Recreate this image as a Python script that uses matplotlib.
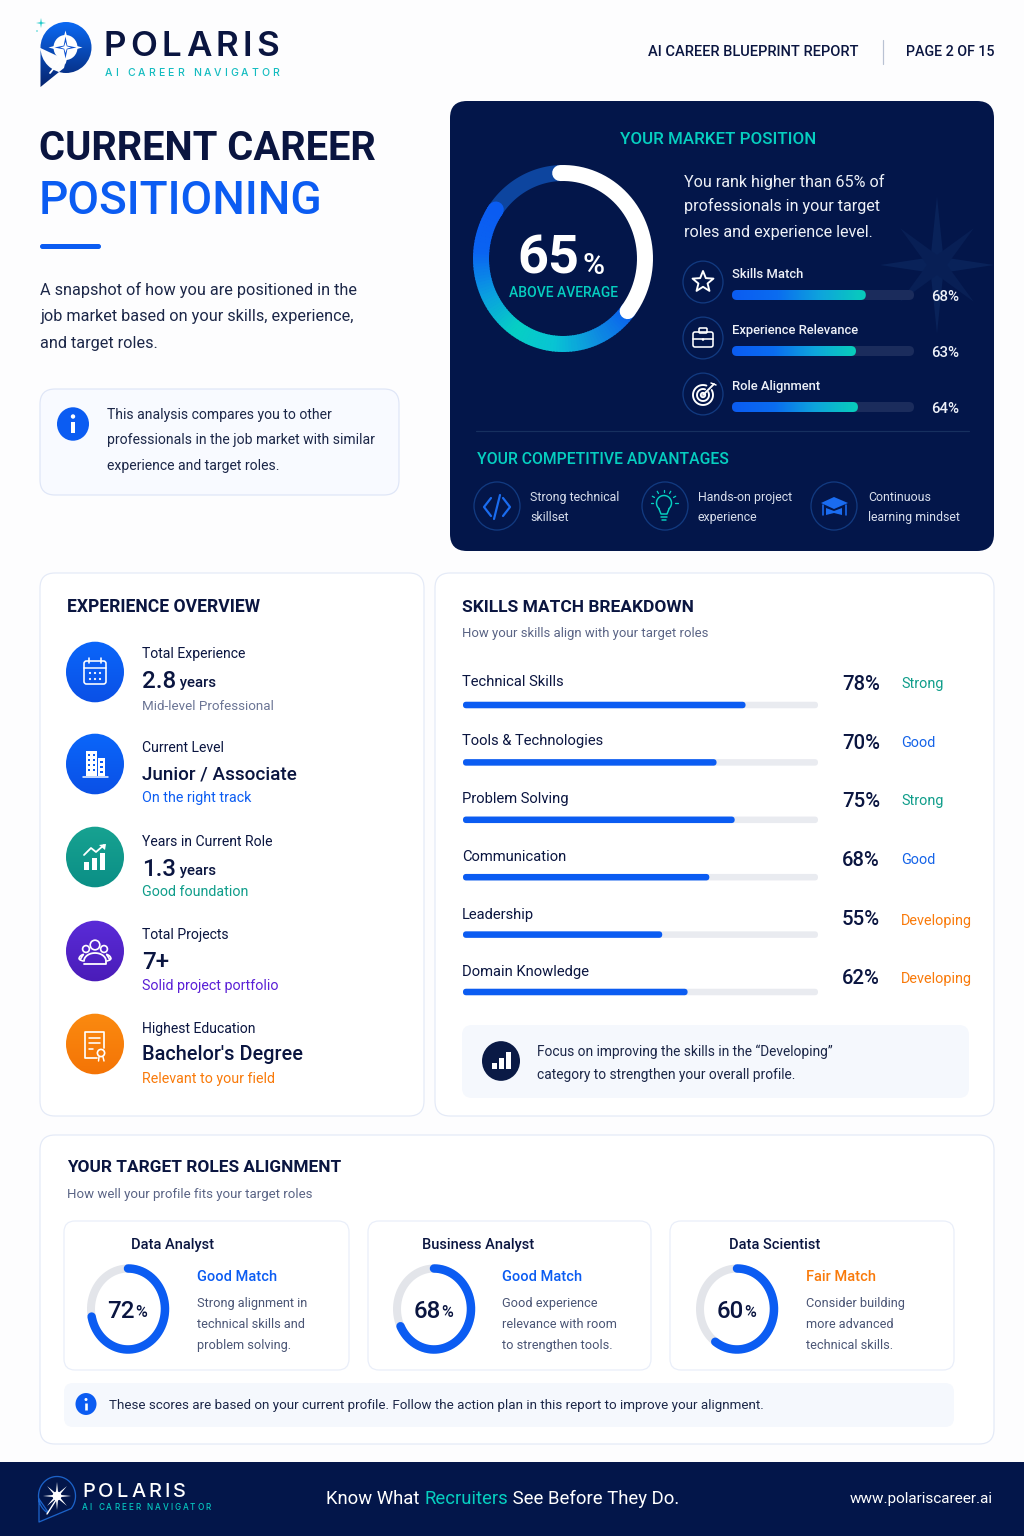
import numpy as np
import matplotlib
matplotlib.use('Agg')
import matplotlib.pyplot as plt
from matplotlib.patches import FancyBboxPatch, Ellipse, Polygon, Rectangle, PathPatch
from matplotlib.path import Path
from matplotlib.colors import LinearSegmentedColormap

# ---------- data ----------
market_score = 65
market_labels = ['Skills Match', 'Experience Relevance', 'Role Alignment']
market_values = [68, 63, 64]
advantages = [['Strong technical', 'skillset'], ['Hands-on project', 'experience'], ['Continuous', 'learning mindset']]
exp_labels = ['Total Experience', 'Current Level', 'Years in Current Role', 'Total Projects', 'Highest Education']
exp_values = ['2.8', 'Junior / Associate', '1.3', '7+', "Bachelor's Degree"]
exp_units = [' years', '', ' years', '', '']
exp_notes = ['Mid-level Professional', 'On the right track', 'Good foundation', 'Solid project portfolio', 'Relevant to your field']
skill_names = ['Technical Skills', 'Tools & Technologies', 'Problem Solving', 'Communication', 'Leadership', 'Domain Knowledge']
skill_values = [78, 70, 75, 68, 55, 62]
skill_status = ['Strong', 'Good', 'Strong', 'Good', 'Developing', 'Developing']
role_names = ['Data Analyst', 'Business Analyst', 'Data Scientist']
role_values = [72, 68, 60]
role_match = ['Good Match', 'Good Match', 'Fair Match']
role_notes = [['Strong alignment in', 'technical skills and', 'problem solving.'],
              ['Good experience', 'relevance with room', 'to strengthen tools.'],
              ['Consider building', 'more advanced', 'technical skills.']]

# ---------- style ----------
plt.rcParams['font.family'] = ['Roboto', 'DejaVu Sans']
NAVY = '#0a1540'; DARK = '#03164a'; BLUE = '#0b5cf2'; CYAN = '#06cfc0'
TEAL = '#0f9d8a'; ORANGE = '#f97a0a'; PURPLE = '#5a1fd6'; GREY = '#5a6485'
STATUS = {'Strong': TEAL, 'Good': '#1463e8', 'Developing': ORANGE}
MATCH = {'Good Match': BLUE, 'Fair Match': ORANGE}
W, H = 1024, 1536
YS = 1.045  # circles of the page are a little taller than wide

fig = plt.figure(figsize=(W/100, H/100), dpi=100, facecolor='#fdfdfe')
ax = fig.add_axes([0, 0, 1, 1]); ax.axis('off')
ax.set_xlim(0, W); ax.set_ylim(H, 0)

def px(v): return v*0.72

def width(t):
    r = fig.canvas.get_renderer()
    return t.get_window_extent(r).width

def T(x, y, s, size, color=NAVY, weight='normal', ha='left', fit=None, **k):
    """y = visual centre of capitals, size in pixels; fit = wanted width in pixels."""
    t = ax.text(x, y+0.36*size, s, fontsize=px(size), color=color, fontweight=weight,
                ha=ha, va='baseline', zorder=k.pop('zorder', 6), **k)
    if fit:
        size = size*fit/width(t)
        t.set_fontsize(px(size)); t.set_y(y+0.36*size)
    return t

def spaced(x0, x1, y, s, size, color, weight='normal', family='Inter'):
    ts = [T(0, y, c, size, color, weight, family=family) for c in s]
    ws = [width(t) if c != ' ' else size*0.3 for t, c in zip(ts, s)]
    gap = (x1-x0-sum(ws))/(len(s)-1)
    x = x0
    for t, w in zip(ts, ws):
        t.set_x(x); x += w+gap

def box(x0, y0, x1, y1, r, fc, ec='none', lw=1, z=1):
    p = FancyBboxPatch((x0+r, y0+r), x1-x0-2*r, y1-y0-2*r, boxstyle=f'round,pad={r},rounding_size={r}',
                       fc=fc, ec=ec, lw=px(lw), zorder=z)
    ax.add_patch(p); return p

def circ(x, y, r, fc='none', ec='none', lw=1, z=5):
    p = Ellipse((x, y), 2*r, 2*r*(YS if r >= 5 else 1), fc=fc, ec=ec, lw=px(lw), zorder=z)
    ax.add_patch(p); return p

def line(xs, ys, c='white', lw=1.6, z=7, cap='round'):
    ax.plot(xs, ys, color=c, lw=px(lw), solid_capstyle=cap, solid_joinstyle='round', zorder=z)

def poly(pts, fc='none', ec='none', lw=1, z=7):
    p = Polygon(pts, closed=True, fc=fc, ec=ec, lw=px(lw), joinstyle='round', zorder=z)
    ax.add_patch(p); return p

def rrect(x0, y0, x1, y1, r, fc='none', ec='white', lw=1.6, z=7):
    return box(x0, y0, x1, y1, r, fc, ec, lw, z)

def star_pts(cx, cy, n, R, r, rot=-90, ys=1.0):
    a = np.deg2rad(rot+np.arange(2*n)*180/n)
    rad = np.where(np.arange(2*n) % 2 == 0, R, r)
    return np.c_[cx+rad*np.cos(a), cy+ys*rad*np.sin(a)]

def grad_clip(extent, c0, c1, clip):
    g = np.linspace(0, 1, 64)
    cm = LinearSegmentedColormap.from_list('g', [c0, c1])
    im = ax.imshow(g[:, None], extent=extent, cmap=cm, aspect='auto', zorder=clip.get_zorder(), interpolation='bilinear')
    im.set_clip_path(clip)
    return im

def inset(x0, y0, x1, y1, **k):
    a = fig.add_axes([x0/W, 1-y1/H, (x1-x0)/W, (y1-y0)/H], **k)
    a.patch.set_alpha(0); a.axis('off')
    return a

# ---------- rings ----------
def ring_axes(cx, cy, rx, ry):
    a = inset(cx-rx, cy-ry, cx+rx, cy+ry, projection='polar')
    a.set_aspect('auto')
    a.set_theta_zero_location('N'); a.set_theta_direction(-1); a.set_ylim(0, 1)
    return a

def arc(a, d0, d1, color, lw, cap='round', zo=2):
    th = np.deg2rad(np.linspace(d0, d1, max(int(abs(d1-d0)), 2)*2))
    a.plot(th, np.ones_like(th), color=color, lw=px(lw), solid_capstyle=cap, clip_on=False, zorder=zo)

# ---------- rounded bars ----------
def rbar(a, v, yc, h, color=None, grad=None, z=2):
    x0, y0, w_, h_ = a.get_position().bounds
    xl, yl = a.get_xlim(), a.get_ylim()
    ppx = w_*W/abs(xl[1]-xl[0]); ppy = h_*H/abs(yl[1]-yl[0])
    rpx = h*ppy/2
    rx = rpx/ppx
    asp = ppx/ppy
    p = FancyBboxPatch((rx, yc-h/2+rpx/ppy), v-2*rx, h-2*rpx/ppy, boxstyle=f'round,pad={rx},rounding_size={rx}',
                       mutation_aspect=asp, fc=color if not grad else 'none', ec='none', zorder=z)
    a.add_patch(p)
    if grad:
        cm = LinearSegmentedColormap.from_list('b', grad)
        im = a.imshow(np.linspace(0, 1, 64)[None, :], extent=(0, v, yc+h/2, yc-h/2), cmap=cm, aspect='auto', zorder=z)
        im.set_clip_path(p)
        a.set_xlim(xl); a.set_ylim(yl)

# ---------- logos ----------
def logo_main():
    circle = Path.circle((66, 47.5), 25.5)
    tail = Path([(40.5, 48), (40.5, 87), (64, 68), (66, 60), (40.5, 48)], closed=False)
    comp = Path.make_compound_path(circle, tail)
    p = PathPatch(comp, fc='none', ec='none', zorder=4); ax.add_patch(p)
    grad_clip((40, 92, 87, 21), '#0b6af5', '#06246e', p)
    circ(65.5, 47.5, 12, fc='white', z=5)
    poly(star_pts(65.5, 47.5, 4, 17, 5), fc='white', z=6)
    poly(star_pts(65.5, 47.5, 4, 11, 2.6), fc='#0b4fd0', z=7)
    poly(star_pts(65.5, 47.5, 4, 5.5, 1.8), fc='white', z=8)
    line([62, 50], [58, 73], 'white', 1.8, z=6)
    poly(star_pts(41, 23, 4, 5, 1), fc='#12c6c6', z=6)
    circ(37, 31, 0.7, fc='#12c6c6')

def logo_foot():
    th = np.deg2rad(np.linspace(120, 400, 80))
    xs = 57+18.5*np.cos(th); ys = 1496+19.5*np.sin(th)
    line(list(xs)+[39, 39, 48], list(ys)+[1522, 1499, 1512], '#1c62c8', 1.3, z=5)
    poly(star_pts(57, 1496, 8, 14, 3), fc='white', z=6)
    circ(57, 1496, 4.5, fc='white', z=6)
    line([56, 47], [1500, 1514], 'white', 1.4, z=6)

# ---------- header ----------
logo_main()
spaced(104, 279, 43, 'POLARIS', 35, NAVY, 'semibold')
spaced(105, 279, 72, 'AI CAREER NAVIGATOR', 10.5, '#14bcc0', 'medium')
T(648, 51, 'AI CAREER BLUEPRINT REPORT', 15.2, NAVY, 'medium', fit=211)
line([883, 883], [40, 64], '#b9c2d3', 1.2)
T(994, 51, 'PAGE 2 OF 15', 15.2, NAVY, 'medium', ha='right', fit=89)

# ---------- left intro ----------
T(39, 146, 'CURRENT CAREER', 44, NAVY, 'bold', fit=338)
T(39, 197, 'POSITIONING', 47, BLUE, 'medium', fit=284)
box(40, 244, 101, 249, 2.5, BLUE, z=3)
for yy, s in zip([289, 315, 342], ['A snapshot of how you are positioned in the',
                                   'job market based on your skills, experience,',
                                   'and target roles.']):
    T(40, yy, s, 16.3, '#1c2748')
box(40, 389, 399, 495, 15, '#f8faff', '#dfe6f7', 1.2)
circ(73, 424, 16, fc=BLUE)
circ(73, 416.5, 2.2, fc='white', z=7); line([73, 73], [421.5, 432.5], 'white', 4, z=7, cap='butt')
for yy, s in zip([414, 439, 465], ['This analysis compares you to other',
                                   'professionals in the job market with similar',
                                   'experience and target roles.']):
    T(107, yy, s, 14, '#1c2748')

# ---------- dark panel ----------
box(450, 101, 994, 551, 17, DARK, z=2)
poly(star_pts(937, 265, 4, 57, 9, ys=1.2), fc='#092259', z=3)
poly(star_pts(937, 265, 4, 52, 10, rot=-45), fc='#081f55', z=3)
T(718, 138, 'YOUR MARKET POSITION', 18.4, CYAN, 'medium', ha='center', fit=195)
rm = ring_axes(563, 258.5, 82, 85.5); rm.set_zorder(3)
score_start = (100-market_score)*3.6
arc(rm, 300, 360, '#0d459f', 16, cap='butt', zo=1)
ring_cm = LinearSegmentedColormap.from_list('r', ['#0a5ff0', '#0e8fe0', '#08c4d4', '#06cfc4', '#0a9fe0', '#0a63f2', '#0a5cf2'])
arc(rm, 303, 305, '#0a5cf2', 16, cap='round', zo=2)
degs = np.linspace(score_start, 305, 90)
for i in range(len(degs)-1):
    arc(rm, degs[i], degs[i+1]+0.6, ring_cm(i/88), 16, cap='butt', zo=2)
arc(rm, -2, score_start+2, 'white', 16, cap='round', zo=3)
T(579, 254, f'{market_score}', 54, 'white', 'bold', ha='right')
T(583, 263, '%', 30, 'white', 'medium')
T(563.5, 292, 'ABOVE AVERAGE', 15.4, CYAN, 'medium', ha='center', fit=109)
for yy, s in zip([181, 205, 231], ['You rank higher than 65% of', 'professionals in your target',
                                   'roles and experience level.']):
    T(684, yy, s, 16.1, '#eef1f8')

mk_ys = [295, 351, 407]
bax = inset(732, 267, 914, 435)
bax.set_xlim(0, 92.5); bax.set_ylim(2.5, -0.5)
for i, (lab, v) in enumerate(zip(market_labels, market_values)):
    rbar(bax, 92.5, i, 10/56, '#1b2c5c', z=1)
    rbar(bax, v, i, 10/56, grad=['#0a5cf2', '#0a6cf0', '#0ea5dc', '#08cdbb'], z=2)
    T(732, mk_ys[i]-22, lab, 13, '#eef1f8', 'medium')
    T(931, mk_ys[i]+1, f'{v}%', 15, '#eef1f8', 'medium')
    circ(703, mk_ys[i]-13, 20, ec='#123a80', lw=1.3)

# star icon
poly(star_pts(703, 282, 5, 11, 4.8), ec='white', lw=1.9)
# briefcase
rrect(693, 332, 713, 347, 2)
line([693, 713], [339, 339], 'white', 1.6)
rrect(699, 328, 707, 333, 1)
circ(703, 339.5, 1.3, fc='white', z=8)
# target
for r in (10, 6, 2.2):
    th = np.deg2rad(np.linspace(-30, 290, 60))
    line(703+r*np.cos(th), 395+r*np.sin(th), 'white', 1.9)
line([703, 714], [395, 384], 'white', 1.9)
line([711, 716], [383, 385], 'white', 1.5)

line([476, 969], [431, 431], '#17305f', 1.2, z=3)
T(477, 458, 'YOUR COMPETITIVE ADVANTAGES', 18.4, CYAN, 'medium', fit=251)
adv_cx = [497, 665, 834]; adv_tx = [530, 698, 868]
for cx, tx, ls in zip(adv_cx, adv_tx, advantages):
    circ(cx, 506, 23, ec='#123a80', lw=1.3)
    T(tx, 497, ls[0], 12.4, '#d8deec'); T(tx, 517, ls[1], 12.4, '#d8deec')
# code icon
line([491, 484, 491], [498, 507, 516], '#1a6cf0', 2.2)
line([503, 510, 503], [498, 507, 516], '#1a6cf0', 2.2)
line([500, 494], [495, 519], '#1a6cf0', 2.2)
# bulb icon
th = np.deg2rad(np.linspace(130, 410, 40))
line(664+7.5*np.cos(th), 503+7.5*np.sin(th), CYAN, 1.5)
line([659, 661, 667, 669], [509, 514, 514, 509], CYAN, 1.5)
line([661, 667], [517, 517], CYAN, 1.5)
line([662, 666], [520, 520], CYAN, 1.5)
for a_ in (-150, -120, -90, -60, -30, 180, 0):
    r_ = np.deg2rad(a_)
    line([664+11*np.cos(r_), 664+13.5*np.cos(r_)], [503+11*np.sin(r_), 503+13.5*np.sin(r_)], CYAN, 1.3)
# cap icon
poly([(821, 503), (834, 497), (848, 503), (834, 509)], fc='#1a6cf0')
poly([(826, 508), (834, 511), (842, 508), (842, 515), (834, 513), (826, 515)], fc='#1a6cf0')
line([823, 823], [505, 515], '#1a6cf0', 1.6); line([846, 846], [505, 515], '#1a6cf0', 1.6)

# ---------- experience card ----------
box(40, 573, 424, 1116, 15, 'white', '#e4eaf7', 1.2)
T(67, 606, 'EXPERIENCE OVERVIEW', 18.4, NAVY, 'bold', fit=192)
c_y = [672, 764, 857, 951, 1044]
lab_y = [653, 747, 841, 934, 1028]
val_y = [679, 773, 867, 960, 1053]
note_y = [705, 797, 891, 985, 1078]
val_sz = [24, 20.5, 24, 24, 20.5]
val_fit = [None, 155, None, None, 160]
ic_col = [['#0b66fa', '#0a50e6'], ['#0b66fa', '#0a50e6'], ['#17a291', '#0b8f86'], ['#5a2bd8', '#4a1cb8'], ['#fb8a10', '#f47406']]
note_col = ['#6b7595', BLUE, TEAL, PURPLE, ORANGE]
note_sz = [13.4, 14.2, 14.2, 14.2, 14.2]
for i in range(5):
    c = circ(95, c_y[i], 29, fc='none', z=4)
    grad_clip((65, 125, c_y[i]+31, c_y[i]-31), ic_col[i][0], ic_col[i][1], c)
    T(142, lab_y[i], exp_labels[i], 14, NAVY)
    t = T(142, val_y[i], exp_values[i], val_sz[i], NAVY, 'medium', fit=val_fit[i])
    if exp_units[i]:
        T(176, val_y[i]+3, exp_units[i], 15, NAVY, 'medium')
    T(142, note_y[i], exp_notes[i], note_sz[i], note_col[i])

# calendar
rrect(84, 661, 106, 684, 2.5)
line([84, 106], [668, 668], 'white', 1.5)
line([89, 89], [658, 663], 'white', 1.6); line([101, 101], [658, 663], 'white', 1.6)
for yy in (673, 679):
    for xx in (90, 95, 100):
        circ(xx, yy, 1.1, fc='white', z=8)
# building
ax.add_patch(Rectangle((86, 751), 11, 25, fc='white', zorder=7))
ax.add_patch(Rectangle((98, 758), 7, 18, fc='white', zorder=7))
line([83, 108], [777, 777], 'white', 1.5)
for yy in (755, 760, 765, 770):
    for xx in (89, 93.5):
        ax.add_patch(Rectangle((xx-1, yy-1), 2, 2.2, fc='#0b5cf2', zorder=8))
for yy in (762, 767, 772):
    ax.add_patch(Rectangle((100, yy-1), 3, 1.8, fc='#0b5cf2', zorder=8))
# growth chart
for xx, yy in zip((84, 92, 100), (862, 858, 853)):
    ax.add_patch(Rectangle((xx, yy), 5, 870-yy, fc='white', zorder=7))
line([84, 91, 96, 104], [855, 848, 852, 845], 'white', 1.8)
poly([(99, 845), (106, 844), (105, 850)], fc='white')
# people
for cx_, cy_, r_ in ((95, 945, 4.8), (86, 949, 3.4), (104, 949, 3.4)):
    circ(cx_, cy_, r_, ec='white', lw=1.7, z=7)
th = np.deg2rad(np.linspace(180, 360, 30))
line(list(95+11*np.cos(th))+[106, 84], list(961+8*np.sin(th))+[964, 964], 'white', 1.8)
line(list(86+7*np.cos(th[:12]))+[80, 83], list(959+5*np.sin(th[:12]))+[960, 961], 'white', 1.6)
line(list(104-7*np.cos(th[:12]))+[110, 107], list(959+5*np.sin(th[:12]))+[960, 961], 'white', 1.6)
# certificate
line([104, 104, 85, 85, 97], [1048, 1032, 1032, 1058, 1058], 'white', 1.7)
for yy, xe in ((1038, 100), (1043, 100), (1049, 93)):
    line([89, xe], [yy, yy], 'white', 1.6)
circ(101, 1053, 3.6, ec='white', lw=1.7, z=7)
line([99, 98.5], [1057, 1061], 'white', 1.5); line([103, 104], [1057, 1061], 'white', 1.5)

# ---------- skills card ----------
box(435, 573, 994, 1116, 15, 'white', '#e4eaf7', 1.2)
T(462, 606, 'SKILLS MATCH BREAKDOWN', 18.4, NAVY, 'bold', fit=231)
T(462, 632, 'How your skills align with your target roles', 13.1, GREY)
sk_lab = [681, 740, 798, 856, 914, 971]
sk_pct = [683, 742, 800, 859, 918, 977]
sk_st = [683, 742, 800, 859, 920, 978]
sax = inset(463, 705-28.7, 818, 992+28.7)
sax.set_xlim(0, 98); sax.set_ylim(5.5, -0.5)
for i, (n, v, st) in enumerate(zip(skill_names, skill_values, skill_status)):
    rbar(sax, 98, i, 6.5/57.4, '#e9ebf0', z=1)
    rbar(sax, v, i, 6.5/57.4, '#0b5cf2', z=2)
    T(462, sk_lab[i], n, 14.7, NAVY)
    T(842, sk_pct[i], f'{v}%', 20.3, NAVY, 'medium')
    T(901, sk_st[i], st, 14.4, STATUS[st])
box(462, 1025, 969, 1098, 10, '#f5f8fd', z=2)
circ(501, 1061, 19, fc='#0a1a45')
for xx, yy in zip((492, 499, 506), (1063, 1058, 1052)):
    ax.add_patch(Rectangle((xx, yy), 5, 1069-yy, fc='white', zorder=7))
T(537, 1051, 'Focus on improving the skills in the \u201cDeveloping\u201d', 13.8, '#1c2748')
T(537, 1074, 'category to strengthen your overall profile.', 13.8, '#1c2748')

# ---------- target roles ----------
box(40, 1135, 994, 1444, 15, 'white', '#e4eaf7', 1.2)
T(67, 1166, 'YOUR TARGET ROLES ALIGNMENT', 18.4, NAVY, 'bold', fit=273)
T(67, 1193, 'How well your profile fits your target roles', 13.2, GREY)
card_x = [(64, 349), (368, 651), (670, 954)]
title_x = [131, 422, 729]
ring_x = [128, 434, 737]
txt_x = [197, 502, 806]
for i in range(3):
    box(card_x[i][0], 1221, card_x[i][1], 1370, 11, 'white', '#e9eef9', 1.2, z=2)
    T(title_x[i], 1244, role_names[i], 14.6, NAVY, 'medium')
    r = ring_axes(ring_x[i], 1309, 37, 40.5)
    arc(r, 0, 360, '#e3e5ea', 8, cap='butt', zo=1)
    arc(r, 0, role_values[i]*3.6, '#0b5cf2', 8.5, cap='round', zo=2)
    T(ring_x[i]+7, 1309, f'{role_values[i]}', 24, NAVY, 'medium', ha='right')
    T(ring_x[i]+7.5, 1311, '%', 16, NAVY, 'medium')
    T(txt_x[i], 1276, role_match[i], 14.6, MATCH[role_match[i]], 'medium')
    for yy, s in zip([1302, 1323, 1344], role_notes[i]):
        T(txt_x[i], yy, s, 12.7, '#4a5575')
box(64, 1383, 954, 1427, 9, '#f5f8fd', z=2)
circ(86, 1404, 10.5, fc=BLUE)
circ(86, 1399.5, 1.5, fc='white', z=7); line([86, 86], [1402.5, 1410], 'white', 2.6, z=7, cap='butt')
T(109, 1404, 'These scores are based on your current profile. Follow the action plan in this report to improve your alignment.', 13.45, '#1c2748')

# ---------- footer ----------
ax.add_patch(Rectangle((0, 1462), W, 74, fc=DARK, zorder=2))
logo_foot()
spaced(82, 186, 1490, 'POLARIS', 20, 'white', 'medium')
spaced(82, 211, 1507, 'AI CAREER NAVIGATOR', 8.2, '#06c8c0', 'medium')
x = 326
for s, c in (('Know What ', 'white'), ('Recruiters', CYAN), (' See Before They Do.', 'white')):
    t = T(x, 1497, s.replace(' ', '\u00a0'), 18.5, c)
    x += width(t)
T(993, 1497, 'www.polariscareer.ai', 15.3, 'white', ha='right')

ax.set_xlim(0, W); ax.set_ylim(H, 0)
fig.savefig('out.png', dpi=100, facecolor=fig.get_facecolor())
